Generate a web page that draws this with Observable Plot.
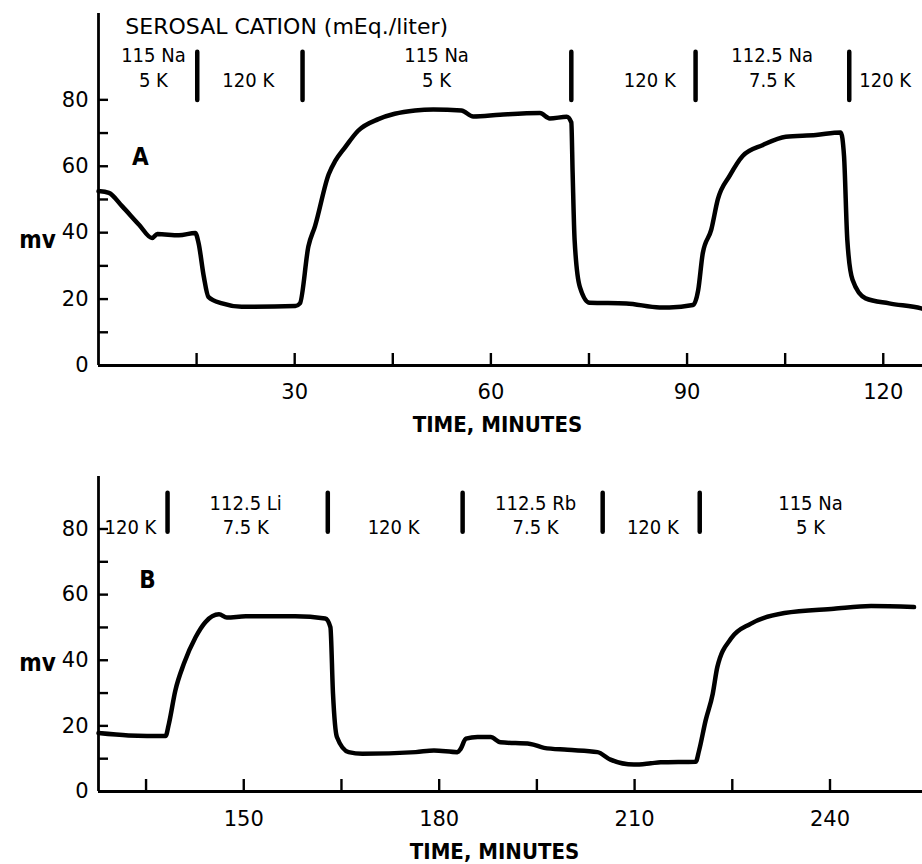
<!DOCTYPE html>
<html>
<head>
<meta charset="utf-8">
<script src="https://cdn.jsdelivr.net/npm/d3@7"></script>
<script src="https://cdn.jsdelivr.net/npm/@observablehq/plot@0.6"></script>
<style>
  html, body { margin: 0; padding: 0; background: white; }
  #chart svg { display: block; }
</style>
</head>
<body>
<div id="chart"></div>
<script>
// ---- Panel A trace (time in minutes, potential in mV) ----
const timeA = [0, 0.3, 1.6, 3.6, 6.2, 8.2, 9.0, 12.3, 14.8, 15.3, 16.1, 16.8, 18.9, 21.9, 30.1, 30.8, 32.1, 33.1, 35.2, 36.2, 37.7, 39.7, 42.8, 45.3, 48.4, 51.2, 55.5, 57.3, 61.4, 67.5, 69.0, 71.6, 72.3, 72.5, 72.8, 73.6, 75.1, 80.7, 85.8, 87.3, 90.9, 91.7, 92.4, 93.7, 94.7, 96.5, 98.5, 101.6, 105.1, 109.7, 113.5, 114.0, 114.5, 115.3, 117.3, 120.9, 125.8, 126];
const mvA   = [52.5, 52.5, 52.0, 48.0, 42.4, 38.4, 39.6, 39.2, 39.9, 36.9, 26.8, 20.7, 18.7, 17.7, 17.9, 18.7, 35.9, 41.9, 57.6, 61.6, 65.7, 70.7, 74.2, 75.8, 76.8, 77.1, 76.8, 75.0, 75.5, 76.0, 74.4, 74.9, 73.2, 58.1, 37.9, 23.7, 18.9, 18.7, 17.5, 17.5, 18.2, 22.7, 33.8, 40.9, 50.0, 57.1, 63.1, 66.4, 68.9, 69.4, 70.2, 63.1, 37.9, 25.8, 20.2, 18.7, 17.2, 17.1];

// ---- Panel B trace ----
const timeB = [127.7, 132.3, 138.0, 138.5, 139.5, 140.8, 142.6, 144.1, 146.2, 147.4, 150.3, 157.9, 162.5, 163.3, 163.7, 164.3, 166.1, 168.2, 176.4, 179.2, 182.8, 183.3, 184.1, 185.9, 187.9, 189.4, 194.0, 196.1, 199.7, 204.3, 206.3, 209.9, 212.5, 214.0, 219.4, 219.9, 220.9, 222.0, 222.7, 224.8, 227.8, 233.0, 240.6, 246.3, 252.9];
const mvB   = [17.8, 17.1, 16.9, 20.6, 30.8, 38.9, 47.0, 51.6, 54.0, 53.0, 53.4, 53.4, 52.7, 50.1, 29.8, 16.6, 12.0, 11.5, 12.0, 12.5, 12.0, 13.0, 16.1, 16.6, 16.6, 15.0, 14.5, 13.3, 12.7, 12.0, 9.7, 8.2, 8.6, 8.9, 9.1, 12.5, 21.6, 29.8, 37.9, 46.6, 51.1, 54.4, 55.7, 56.5, 56.2];

// ---- Solution change markers and labels ----
const barsA = [15.1, 31.2, 72.3, 91.3, 114.8];
const condA_t      = [8.4, 22.9, 51.7, 84.3, 103.0, 120.3];
const condA_top    = ["115 Na", "", "115 Na", "", "112.5 Na", ""];
const condA_bottom = ["5 K", "120 K", "5 K", "120 K", "7.5 K", "120 K"];

const barsB = [138.3, 162.9, 183.6, 205.1, 220.0];
const condB_t      = [132.6, 150.3, 173.0, 194.8, 212.8, 237.0];
const condB_top    = ["", "112.5 Li", "", "112.5 Rb", "", "115 Na"];
const condB_bottom = ["120 K", "7.5 K", "120 K", "7.5 K", "120 K", "5 K"];

// ---- Axis ticks ----
const xTicksA  = [15, 30, 45, 60, 75, 90, 105, 120];
const xLabelsA = [30, 60, 90, 120];
const xTicksB  = [135, 150, 165, 180, 195, 210, 225, 240];
const xLabelsB = [150, 180, 210, 240];
const yTicks   = [10, 20, 30, 40, 50, 60, 70, 80];
const yLabels  = [0, 20, 40, 60, 80];

const titleText = "SEROSAL CATION (mEq./liter)";
const xTitle = "TIME, MINUTES";
const yTitle = "mv";

const FONT = "'DejaVu Sans Condensed', 'DejaVu Sans', sans-serif";

function panel(cfg) {
  const trace = cfg.time.map((t, i) => ({t, mv: cfg.mv[i]}));
  const conds = cfg.condT.map((t, i) => ({t, top: cfg.condTop[i], bottom: cfg.condBottom[i]}));
  const marks = [
    Plot.ruleY([0], {strokeWidth: 2.8}),
    Plot.ruleX([cfg.xDomain[0]], {y1: 0, y2: cfg.yDomain[1], strokeWidth: 2.8}),
    Plot.axisY({ticks: yTicks, tickSize: -10, tickFormat: () => "", strokeWidth: 2.4, label: null}),
    Plot.axisY({ticks: yLabels, tickSize: 0, tickPadding: 10, fontSize: 21, label: null, fontFamily: "'DejaVu Sans', sans-serif"}),
    Plot.axisX({ticks: cfg.xTicks, tickSize: -12, tickFormat: () => "", strokeWidth: 2.4, label: null}),
    Plot.axisX({ticks: cfg.xLabels, tickSize: 0, tickPadding: cfg.xPad, fontSize: 21, label: null, fontFamily: "'DejaVu Sans', sans-serif"}),
    Plot.line(trace, {x: "t", y: "mv", stroke: "black", strokeWidth: 4.5, curve: "monotone-x", strokeLinejoin: "round", strokeLinecap: "round"}),
    Plot.ruleX(cfg.bars, {y1: cfg.barY[0], y2: cfg.barY[1], strokeWidth: 4.5, strokeLinecap: "round"}),
    Plot.text(conds, {x: "t", y: cfg.lineY[0], text: "top", fontSize: 20}),
    Plot.text(conds, {x: "t", y: cfg.lineY[1], text: "bottom", fontSize: 20}),
    Plot.text([cfg.letter], {x: "t", y: "v", text: "s", fontSize: 24, fontWeight: "bold"}),
    Plot.text([{v: cfg.yTitleV}], {y: "v", frameAnchor: "left", textAnchor: "middle", dx: -61, text: () => yTitle, fontSize: 24, fontWeight: "bold"}),
    Plot.text([{t: cfg.xTitleT}], {x: "t", frameAnchor: "bottom", lineAnchor: "middle", dy: cfg.xTitleDy, text: () => xTitle, fontSize: 22, fontWeight: "bold"})
  ];
  if (cfg.title) {
    marks.push(Plot.text([cfg.title], {x: "t", y: "v", text: "s", textAnchor: "start", fontSize: 22, fontFamily: "'DejaVu Sans', sans-serif"}));
  }
  return Plot.plot({
    width: 922,
    height: cfg.height,
    marginLeft: 98,
    marginRight: 0,
    marginTop: cfg.mt,
    marginBottom: cfg.mb,
    x: {domain: cfg.xDomain},
    y: {domain: cfg.yDomain},
    style: {fontFamily: FONT, background: "white", color: "black", overflow: "visible"},
    marks
  });
}

const figA = panel({
  height: 440, mt: 13, mb: 75,
  xDomain: [0, 126], yDomain: [0, 106],
  time: timeA, mv: mvA,
  bars: barsA, barY: [79.8, 94.3],
  condT: condA_t, condTop: condA_top, condBottom: condA_bottom,
  lineY: [93.4, 85.8],
  xTicks: xTicksA, xLabels: xLabelsA, xPad: 19,
  letter: {t: 6.4, v: 62.7, s: "A"},
  yTitleV: 37.7,
  xTitleT: 61, xTitleDy: 59,
  title: {t: 4.1, v: 101.8, s: titleText}
});

const figB = panel({
  height: 424, mt: 36, mb: 73,
  xDomain: [127.7, 254.2], yDomain: [0, 96],
  time: timeB, mv: mvB,
  bars: barsB, barY: [79.0, 90.9],
  condT: condB_t, condTop: condB_top, condBottom: condB_bottom,
  lineY: [87.8, 80.5],
  xTicks: xTicksB, xLabels: xLabelsB, xPad: 20,
  letter: {t: 135.2, v: 64.3, s: "B"},
  yTitleV: 39,
  xTitleT: 188.5, xTitleDy: 60,
  title: null
});

document.getElementById("chart").append(figA, figB);
</script>
</body>
</html>
